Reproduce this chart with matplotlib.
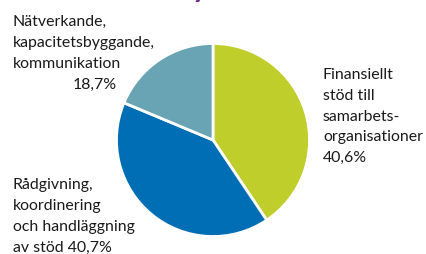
import matplotlib
matplotlib.use("Agg")
import matplotlib.pyplot as plt

categories = ["Finansiellt\nstöd till\nsamarbets-\norganisationer",
              "Rådgivning,\nkoordinering\noch handläggning\nav stöd",
              "Nätverkande,\nkapacitetsbyggande,\nkommunikation"]
values = [40.6, 40.7, 18.7]
value_labels = ["40,6%", "40,7%", "18,7%"]
colors = ["#BFCE2B", "#006EB5", "#68A4B3"]

W, H = 427, 254
fig = plt.figure(figsize=(W / 100, H / 100), dpi=100)
ax = fig.add_axes([0, 0, 1, 1])
ax.pie(values, colors=colors, startangle=90, counterclock=False,
       center=(213, H - 140), radius=96.5,
       wedgeprops=dict(edgecolor="white", linewidth=2))
ax.set_xlim(0, W)
ax.set_ylim(0, H)
ax.set_aspect("equal")
ax.axis("off")

font = dict(family=["Lato", "DejaVu Sans"], fontsize=11.4, color="#1a1a1a",
            linespacing=1.62)

# right block
ax.text(323, H - 68, categories[0] + "\n" + value_labels[0], ha="left", va="top", **font)
# bottom-left block
ax.text(13, H - 178, categories[1] + " " + value_labels[1], ha="left", va="top", **font)
# top-left block
ax.text(13, H - 15, categories[2], ha="left", va="top", **font)
ax.text(117, H - 78, value_labels[2], ha="right", va="top", **font)

# cut-off title descender at top
ax.text(200, H + 3.5, "y", ha="center", va="baseline", color="#6B2C8F",
        fontsize=22, fontweight="bold", family="Lato")

fig.savefig("out.png", dpi=100)
